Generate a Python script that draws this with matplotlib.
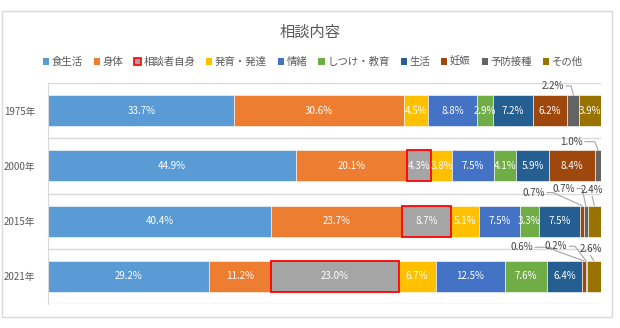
import matplotlib
matplotlib.use("Agg")
import matplotlib.pyplot as plt
from matplotlib.patches import Patch, Rectangle
import numpy as np

plt.rcParams['font.family'] = ['Noto Sans CJK JP', 'DejaVu Sans']

# データ
years = ['1975年', '2000年', '2015年', '2021年']
categories = ['食生活', '身体', '相談者自身', '発育・発達', '情緒', 'しつけ・教育', '生活', '妊娠', '予防接種', 'その他']
shokuseikatsu = [33.7, 44.9, 40.4, 29.2]
shintai = [30.6, 20.1, 23.7, 11.2]
soudansha = [0.0, 4.3, 8.7, 23.0]
hatsuiku = [4.5, 3.8, 5.1, 6.7]
jouchoku = [8.8, 7.5, 7.5, 12.5]
shitsuke = [2.9, 4.1, 3.3, 7.6]
seikatsu = [7.2, 5.9, 7.5, 6.4]
ninshin = [6.2, 8.4, 0.7, 0.6]
yobou = [2.2, 1.0, 0.7, 0.2]
sonota = [3.9, 0.0, 2.4, 2.6]
values = [shokuseikatsu, shintai, soudansha, hatsuiku, jouchoku, shitsuke, seikatsu, ninshin, yobou, sonota]

colors = ['#5B9BD5', '#ED7D31', '#A5A5A5', '#FFC000', '#4472C4', '#70AD47',
          '#255E91', '#9E480E', '#636363', '#997300']

# 外側に出すラベル: (行, 系列) -> (文字x, 文字y, ha, 折れ点x)
callouts = {
    (0, 8): (93.3, -0.446, 'right', 94.6),
    (1, 8): (96.7, 0.563, 'right', 98.9),
    (2, 7): (89.9, 1.482, 'right', 91.3),
    (2, 8): (95.3, 1.41, 'right', 96.6),
    (2, 9): (98.4, 1.43, 'center', None),
    (3, 7): (87.7, 2.473, 'right', 90.1),
    (3, 8): (93.9, 2.455, 'right', 95.3),
    (3, 9): (98.1, 2.50, 'center', None),
}

W, H = 620, 328
fig = plt.figure(figsize=(W / 100, H / 100), dpi=100)
fig.patches.append(Rectangle((2 / W, 1 - 317 / H), 610 / W, 306 / H, transform=fig.transFigure,
                             facecolor='none', edgecolor='#d9d9d9', lw=1.0))
ax = fig.add_axes([48 / W, 1 - 304 / H, 553 / W, 221 / H])

y = np.arange(len(years))
bh = 0.56
left = np.zeros(len(years))
for i, (name, vals, c) in enumerate(zip(categories, values, colors)):
    vals = np.array(vals)
    for r in range(len(years)):
        v = vals[r]
        if v <= 0:
            continue
        if name == '相談者自身':
            ax.barh(r, v, left=left[r], height=bh, color=c, edgecolor='#FF0000', linewidth=1.3, zorder=3)
        else:
            ax.barh(r, v, left=left[r], height=bh, color=c, edgecolor='white', linewidth=0.4, zorder=2)
        cx = left[r] + v / 2
        lab = f'{v:.1f}%'
        if (r, i) in callouts:
            tx, ty, ha, ex = callouts[(r, i)]
            ax.text(tx, ty, lab, ha=ha, va='center', fontsize=7, color='#404040', zorder=5)
            top = r - bh / 2
            if ex is None:
                ax.plot([tx, cx], [ty + 0.12, top], color='#a6a6a6', lw=0.8, zorder=4)
            else:
                ax.plot([tx + 0.4, ex, cx], [ty, ty, top], color='#a6a6a6', lw=0.8, zorder=4)
        else:
            ax.text(cx, r, lab, ha='center', va='center', fontsize=7, color='white', zorder=5)
    left += vals

ax.set_xlim(0, 100)
ax.set_ylim(3.5, -0.5)
ax.hlines(np.arange(-0.5, 4, 1), 0, 100, color='#d9d9d9', lw=1.0, zorder=1)
ax.set_yticks(y)
ax.set_yticklabels(years, fontsize=7, color='#595959')
ax.tick_params(axis='y', length=0, pad=9)
ax.set_xticks([])
for s in ['top', 'right', 'bottom']:
    ax.spines[s].set_visible(False)
ax.spines['left'].set_color('#d9d9d9')

fig.text(0.5, 1 - 32 / H, '相談内容', ha='center', va='center', fontsize=11, color='#595959')

handles = [Patch(facecolor=c, edgecolor=('#FF0000' if n == '相談者自身' else c), linewidth=1.2 if n == '相談者自身' else 0)
           for n, c in zip(categories, colors)]
fig.legend(handles, categories, loc='center', bbox_to_anchor=(313 / W, 1 - 62 / H), ncol=10,
           frameon=False, fontsize=7.5, handlelength=0.6, handleheight=0.6, handletextpad=0.25,
           columnspacing=1.05, labelcolor='#595959', borderaxespad=0)

fig.savefig('out.png', dpi=100)
